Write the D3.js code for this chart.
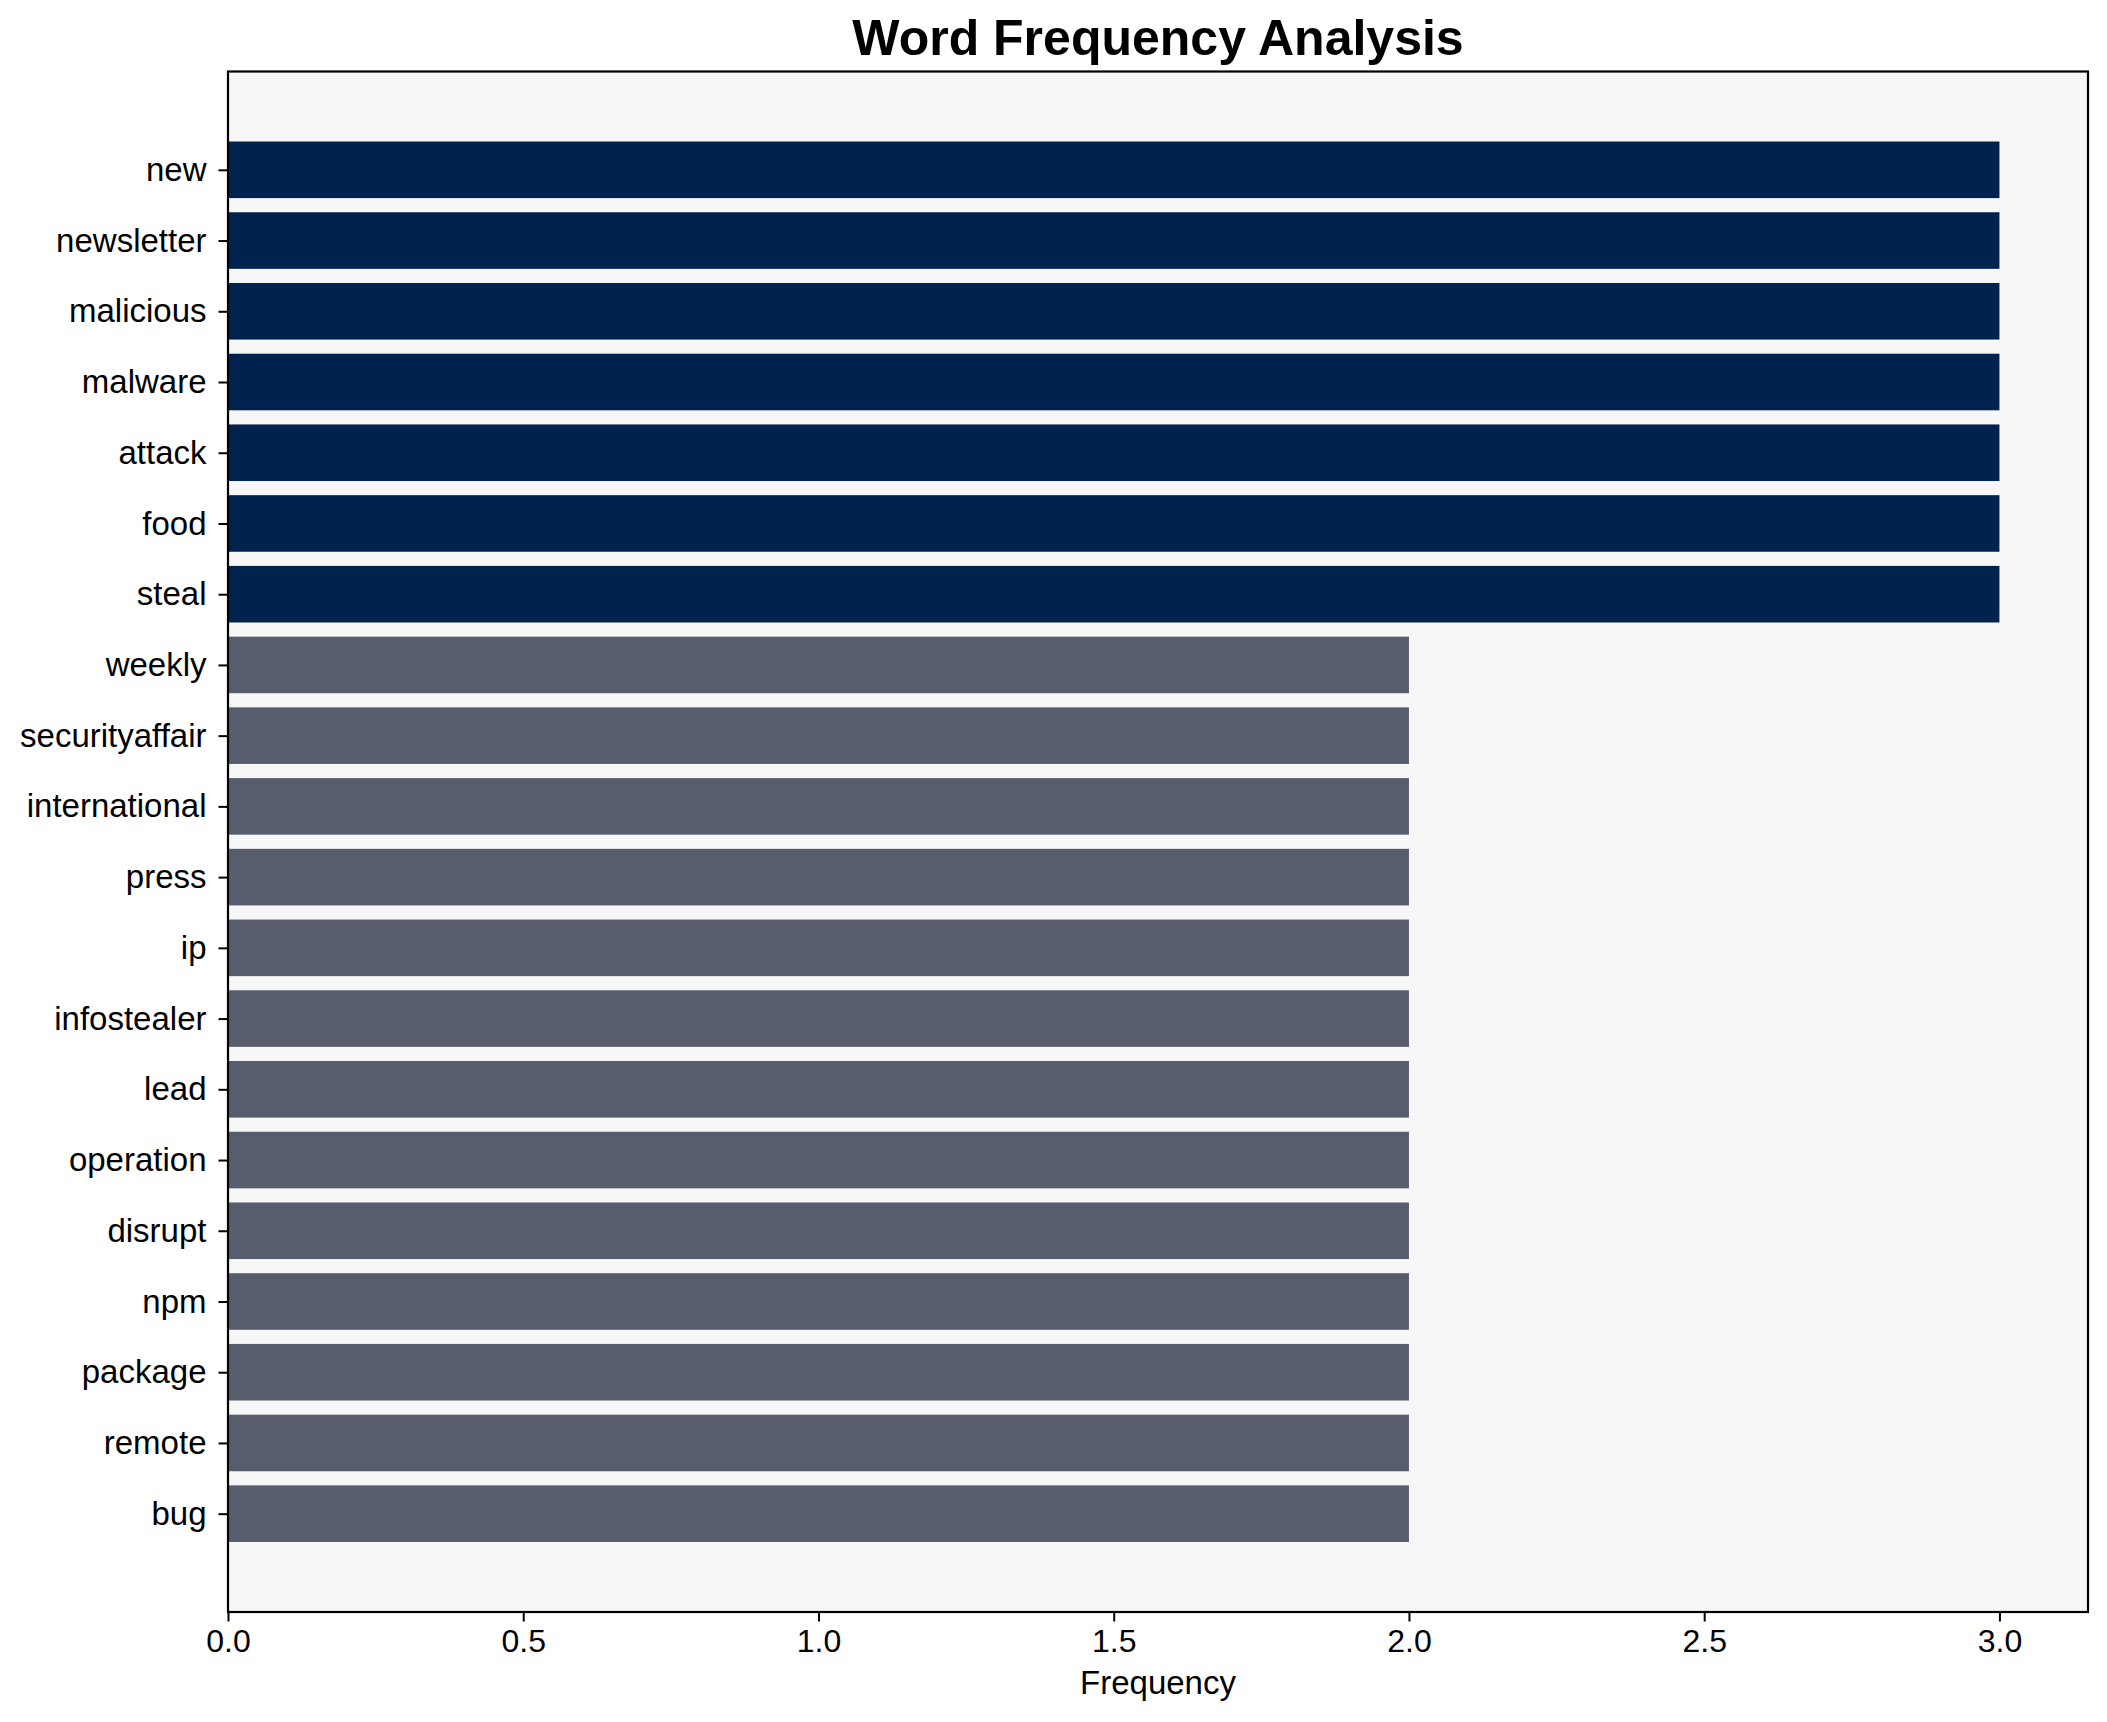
<!DOCTYPE html>
<html>
<head>
<meta charset="utf-8">
<script src="https://cdn.jsdelivr.net/npm/d3@7"></script>
<style>
  body { margin: 0; background: #ffffff; }
  svg { display: block; }
</style>
</head>
<body>
<svg id="chart" width="2107" height="1722"></svg>
<script>
const words = ["new","newsletter","malicious","malware","attack","food","steal","weekly","securityaffair","international","press","ip","infostealer","lead","operation","disrupt","npm","package","remote","bug"];
const counts = [3,3,3,3,3,3,3,2,2,2,2,2,2,2,2,2,2,2,2,2];
const xTicks = [0,0.5,1.0,1.5,2.0,2.5,3.0];
const titleText = "Word Frequency Analysis";
const xLabelText = "Frequency";
const colorHigh = "#00224e";
const colorLow = "#575d6d";

const W = 2107, H = 1722;
const margin = {left: 228, right: 19, top: 71.5, bottom: 110};
const svg = d3.select("#chart");
const plotW = W - margin.left - margin.right;
const plotH = H - margin.top - margin.bottom;

const maxV = d3.max(counts);
const x = d3.scaleLinear().domain([0, maxV * 1.05]).range([0, plotW]);
const n = words.length;
const lo = -0.4 - 0.05 * (n - 1 + 0.8);
const hi = (n - 1) + 0.4 + 0.05 * (n - 1 + 0.8);
const y = d3.scaleLinear().domain([lo, hi]).range([0, plotH]);

const g = svg.append("g").attr("transform", `translate(${margin.left},${margin.top})`);

g.append("rect").attr("x", 0).attr("y", 0).attr("width", plotW).attr("height", plotH).attr("fill", "#f7f7f7");

const data = words.map((w, i) => ({w, v: counts[i], i}));
const bh = y(0.8) - y(0);
g.selectAll("rect.bar").data(data).enter().append("rect")
  .attr("class", "bar")
  .attr("x", x(0))
  .attr("y", d => y(d.i) - bh / 2)
  .attr("width", d => x(d.v) - x(0))
  .attr("height", bh)
  .attr("fill", d => d.v >= maxV ? colorHigh : colorLow);

g.append("rect").attr("x", 0).attr("y", 0).attr("width", plotW).attr("height", plotH)
  .attr("fill", "none").attr("stroke", "#000").attr("stroke-width", 2.2);

const font = "'Liberation Sans', Arial, sans-serif";

const xAxis = d3.axisBottom(x).tickValues(xTicks).tickFormat(d3.format(".1f")).tickSize(9.5).tickPadding(8);
const xg = g.append("g").attr("transform", `translate(0,${plotH})`).call(xAxis);
xg.select(".domain").remove();
xg.selectAll(".tick line").attr("stroke", "#000").attr("stroke-width", 2);
xg.selectAll(".tick text").attr("font-family", font).attr("font-size", 32).attr("fill", "#000");

const yAxis = d3.axisLeft(y).tickValues(d3.range(n)).tickFormat(i => words[i]).tickSize(9.5).tickPadding(12);
const yg = g.append("g").call(yAxis);
yg.select(".domain").remove();
yg.selectAll(".tick line").attr("stroke", "#000").attr("stroke-width", 2);
yg.selectAll(".tick text").attr("font-family", font).attr("font-size", 33).attr("fill", "#000");

svg.append("text").attr("x", margin.left + plotW / 2).attr("y", 1694)
  .attr("text-anchor", "middle").attr("font-family", font)
  .attr("font-size", 33).attr("fill", "#000").text(xLabelText);

svg.append("text").attr("x", margin.left + plotW / 2).attr("y", 55)
  .attr("text-anchor", "middle").attr("font-family", font)
  .attr("font-weight", "bold").attr("font-size", 50).attr("fill", "#000").text(titleText);
</script>
</body>
</html>
